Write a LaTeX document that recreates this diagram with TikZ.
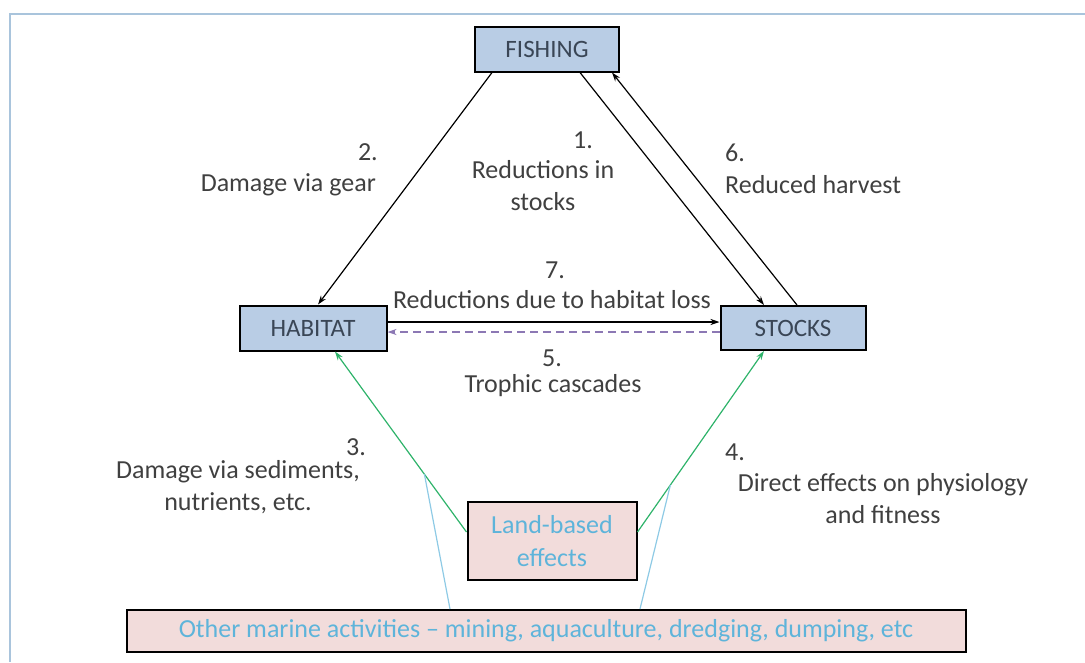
\documentclass[tikz,border=0pt]{standalone}
\usepackage{fontspec}
\setmainfont{Carlito}
\usetikzlibrary{positioning, arrows.meta}

\definecolor{boxblue}{HTML}{B9CDE5}
\definecolor{boxpink}{HTML}{F2DCDB}
\definecolor{textgray}{HTML}{404040}
\definecolor{boxtext}{HTML}{3A4656}
\definecolor{framblue}{HTML}{A9C4DC}
\definecolor{lightblue}{HTML}{5EB4DA}
\definecolor{arrowgreen}{HTML}{2EB36A}
\definecolor{dashpurple}{HTML}{8C78B4}

\tikzset{
  mainbox/.style={draw=black, line width=2pt, fill=boxblue, text=boxtext,
    font=\fontsize{25}{30}\selectfont, inner sep=0pt},
  sourcebox/.style={draw=black, line width=2pt, fill=boxpink, text=lightblue,
    font=\fontsize{26}{33}\selectfont, inner sep=0pt, align=center},
  lbl/.style={text=textgray, font=\fontsize{26}{32}\selectfont, inner sep=0pt},
  link/.style={line width=1.2pt, -{Stealth[length=9pt,width=6pt]}},
}

\begin{document}
\begin{tikzpicture}[x=1pt, y=-1pt]
  \useasboundingbox (0,0) rectangle (1085,662);
  % frame
  \draw[framblue, line width=2.5pt] (1085,14) -- (10,14) -- (10,662);

  % boxes
  \node (fishing) [mainbox, minimum width=144pt, minimum height=45pt] at (547,49) {FISHING};
  \node (habitat) [mainbox, minimum width=147pt, minimum height=45pt] at (313,328) {HABITAT};
  \node (stocks) [mainbox, minimum width=145pt, minimum height=44pt] at (793,328) {STOCKS};
  \node (land) [sourcebox, minimum width=169pt, minimum height=78pt] at (552,541) {Land-based\\effects};
  \node (other) [sourcebox, minimum width=839pt, minimum height=42pt] at (546,631) {Other marine activities – mining, aquaculture, dredging, dumping, etc};

  % fishing links
  \draw[link] ([xshift=-55pt]fishing.south) -- ([xshift=5pt]habitat.north);
  \draw[link] ([xshift=33pt]fishing.south) -- ([xshift=-29pt]stocks.north);
  \draw[link] ([xshift=4pt]stocks.north) -- ([xshift=65pt]fishing.south);

  % habitat <-> stocks
  \draw[link] ([yshift=6pt]habitat.east) -- ([yshift=6pt]stocks.west);
  \draw[link, dashpurple, dashed, dash pattern=on 8pt off 5pt] ([yshift=-4pt]stocks.west) -- ([yshift=-4pt]habitat.east);

  % land-based and other links
  \draw[link, arrowgreen] ([yshift=9pt]land.west) -- coordinate[pos=0.32] (gleft) ([xshift=22pt]habitat.south);
  \draw[link, arrowgreen] ([yshift=9pt]land.east) -- coordinate[pos=0.26] (gright) ([xshift=-29pt]stocks.south);
  \draw[lightblue!70, line width=1.2pt] ([xshift=-96pt]other.north) -- (gleft);
  \draw[lightblue!70, line width=1.2pt] ([xshift=94pt]other.north) -- (gright);

  % labels
  \node (n2) [lbl, anchor=east] at (378,152) {2.};
  \node (t2) [lbl, anchor=east] at (376,185) {Damage via gear};
  \node (n1) [lbl] at (583,140) {1.};
  \node (t1) [lbl, align=center] at (543,186) {Reductions in\\stocks};
  \node (n6) [lbl, anchor=west] at (725,153) {6.};
  \node (t6) [lbl, anchor=west] at (725,185) {Reduced harvest};
  \node (n7) [lbl] at (555,270) {7.};
  \node (t7) [lbl] at (552,300) {Reductions due to habitat loss};
  \node (n5) [lbl] at (552,358) {5.};
  \node (t5) [lbl] at (553,386) {Trophic cascades};
  \node (n3) [lbl] at (356,447) {3.};
  \node (t3) [lbl, align=center] at (238,487) {Damage via sediments,\\nutrients, etc.};
  \node (n4) [lbl, anchor=west] at (725,452) {4.};
  \node (t4) [lbl, align=center] at (883,499) {Direct effects on physiology\\and fitness};
\end{tikzpicture}
\end{document}
